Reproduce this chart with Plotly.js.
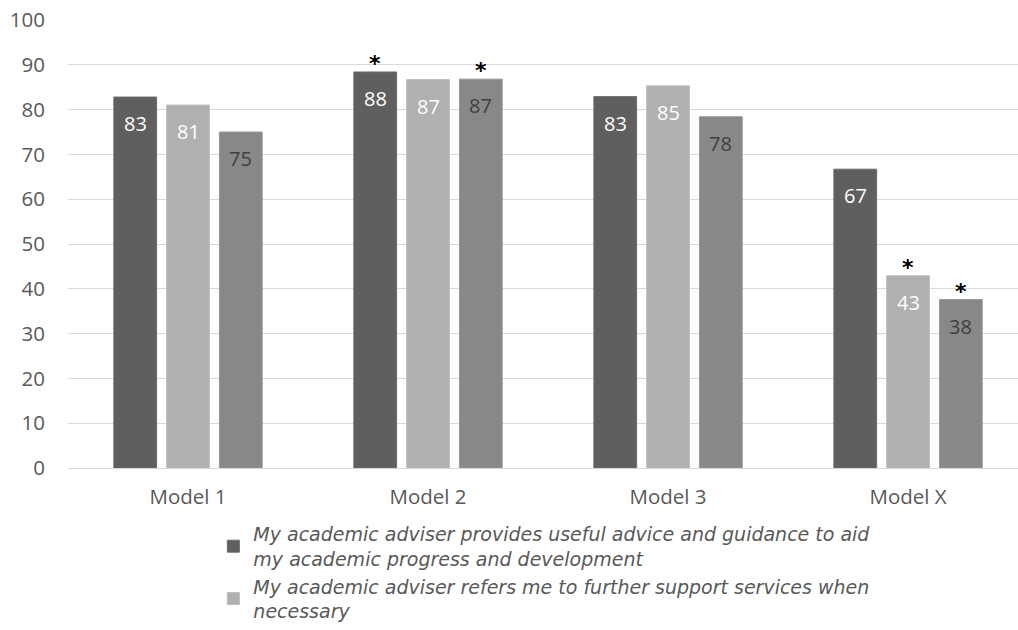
<!DOCTYPE html>
<html>
<head>
<meta charset="utf-8">
<script src="https://cdn.plot.ly/plotly-3.0.1.min.js"></script>
<style>
html,body{margin:0;padding:0;background:#fff;}
#chart{width:1018px;height:630px;}
</style>
</head>
<body>
<div id="chart"></div>
<script>
const categories = ["Model 1", "Model 2", "Model 3", "Model X"];
const seriesNames = [
  "My academic adviser provides useful advice and guidance to aid<br>my academic progress and development",
  "My academic adviser refers me to further support services when<br>necessary",
  "Third statement"
];
const adviceValues = [82.8, 88.4, 82.9, 66.7];
const referValues = [81.0, 86.7, 85.3, 42.9];
const thirdValues = [75.0, 86.8, 78.4, 37.6];
const adviceLabels = ["83", "88", "83", "67"];
const referLabels = ["81", "87", "85", "43"];
const thirdLabels = ["75", "87", "78", "38"];
const adviceStars = [false, true, false, false];
const referStars = [false, false, false, true];
const thirdStars = [false, true, false, true];

const colors = ["#5f5f5f", "#b0b0b0", "#888888"];
const lineColors = ["#6c6c6c", "#bdbdbd", "#979797"];
const labelColors = ["#ffffff", "#ffffff", "#3f3f3f"];
const allValues = [adviceValues, referValues, thirdValues];
const allLabels = [adviceLabels, referLabels, thirdLabels];
const allStars = [adviceStars, referStars, thirdStars];

const bargap = 0.34;
const bargroupgap = 0.19;

const traces = allValues.map((vals, i) => ({
  type: "bar",
  x: categories,
  y: vals,
  name: seriesNames[i],
  showlegend: i < 2,
  marker: {color: colors[i], line: {color: lineColors[i], width: 1}},
  hoverinfo: "x+y"
}));

const slot = (1 - bargap) / 3;
const annotations = [];
allValues.forEach((vals, s) => {
  vals.forEach((v, c) => {
    annotations.push({
      x: c + (s - 1) * slot,
      y: v,
      xref: "x", yref: "y",
      text: allLabels[s][c],
      showarrow: false,
      yanchor: "top",
      yshift: -11,
      font: {family: "Open Sans, sans-serif", size: 20, color: labelColors[s]}
    });
    if (allStars[s][c]) {
      annotations.push({
        x: c + (s - 1) * slot,
        y: v,
        xref: "x", yref: "y",
        text: "*",
        showarrow: false,
        yanchor: "bottom",
        yshift: -6,
        font: {family: "DejaVu Sans, sans-serif", size: 22, color: "#000000", weight: "bold"}
      });
    }
  });
});

const layout = {
  width: 1018, height: 630,
  margin: {l: 68, r: 0, t: 20, b: 160},
  paper_bgcolor: "#ffffff",
  plot_bgcolor: "#ffffff",
  barmode: "group",
  bargap: bargap,
  bargroupgap: bargroupgap,
  font: {family: "Open Sans, sans-serif", color: "#595959"},
  xaxis: {
    type: "category",
    range: [-0.5, 3.458],
    showgrid: false,
    showline: false,
    zeroline: false,
    ticks: "",
    ticklabelstandoff: 14,
    tickfont: {size: 20.5, color: "#595959"},
    fixedrange: true
  },
  yaxis: {
    range: [0, 100],
    dtick: 10,
    showgrid: true,
    gridcolor: "#d9d9d9",
    gridwidth: 1,
    zeroline: true,
    zerolinecolor: "#d9d9d9",
    zerolinewidth: 1,
    showline: false,
    ticks: "",
    ticklabelstandoff: 22,
    tickfont: {size: 20.5, color: "#595959"},
    fixedrange: true
  },
  legend: {
    orientation: "v",
    x: 0.153, y: -0.106,
    xanchor: "left", yanchor: "top",
    font: {family: "DejaVu Sans, sans-serif", size: 19, color: "#595959", style: "italic"},
    itemwidth: 30,
    tracegroupgap: 0,
    bgcolor: "rgba(0,0,0,0)"
  },
  annotations: annotations,
  showlegend: true
};

Plotly.newPlot("chart", traces, layout, {displayModeBar: false, staticPlot: true});
</script>
</body>
</html>
